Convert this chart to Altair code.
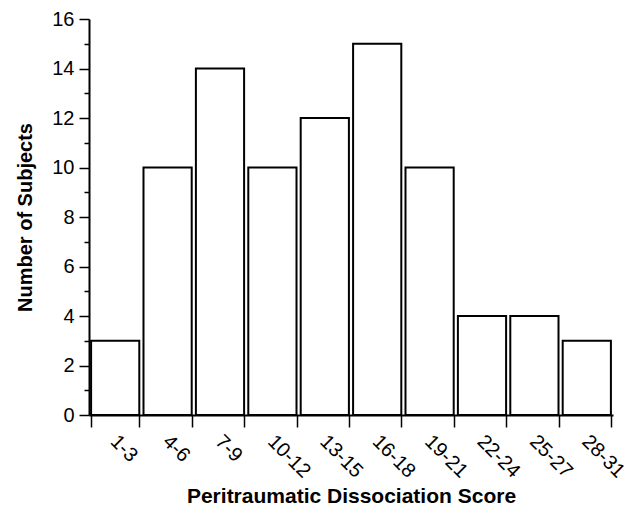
import altair as alt
import pandas as pd

categories = ["1-3", "4-6", "7-9", "10-12", "13-15", "16-18", "19-21", "22-24", "25-27", "28-31"]
subjects = [3, 10, 14, 10, 12, 15, 10, 4, 4, 3]

df = pd.DataFrame({"score": categories, "n": subjects})

FONT = "Liberation Sans"

chart = alt.Chart(df).mark_bar(
    fill="white", stroke="black", strokeWidth=2
).encode(
    x=alt.X(
        "score:N",
        sort=categories,
        scale=alt.Scale(paddingInner=0.08, paddingOuter=0.04),
        axis=alt.Axis(
            title="Peritraumatic Dissociation Score",
            labelAngle=45,
            labelAlign="left",
            labelBaseline="middle",
            labelPadding=11,
            labelOffset=-2,
            labelFontSize=20,
            labelFont=FONT,
            labelColor="black",
            tickBand="extent",
            tickSize=12,
            tickColor="black",
            tickWidth=1.5,
            domainColor="black",
            domainWidth=2,
            titleFont=FONT,
            titleFontSize=21,
            titleFontWeight="bold",
            titleColor="black",
            titleBaseline="alphabetic",
            titleY=87,
        ),
    ),
    y=alt.Y(
        "n:Q",
        scale=alt.Scale(domain=[0, 16], nice=False),
        axis=alt.Axis(
            title="Number of Subjects",
            values=list(range(0, 17)),
            labelExpr="datum.value % 2 === 0 ? datum.label : ''",
            tickSize={"condition": {"test": "datum.value % 2 === 0", "value": 10}, "value": 5},
            tickColor="black",
            tickWidth=1.5,
            domainColor="black",
            domainWidth=2,
            grid=False,
            labelFontSize=20,
            labelFont=FONT,
            labelColor="black",
            labelPadding=5,
            titleFont=FONT,
            titleFontSize=20,
            titleFontWeight="bold",
            titleColor="black",
            titleBaseline="middle",
            titleX=-64,
        ),
    ),
).properties(
    width=524,
    height=396,
    background="white",
    autosize=alt.AutoSizeParams(type="none"),
    padding={"left": 81, "top": 11, "right": 13, "bottom": 92},
).configure_view(
    stroke=None
).configure_axis(
    grid=False
)

chart.save("out.html", embed_options={"renderer": "svg", "actions": False})
